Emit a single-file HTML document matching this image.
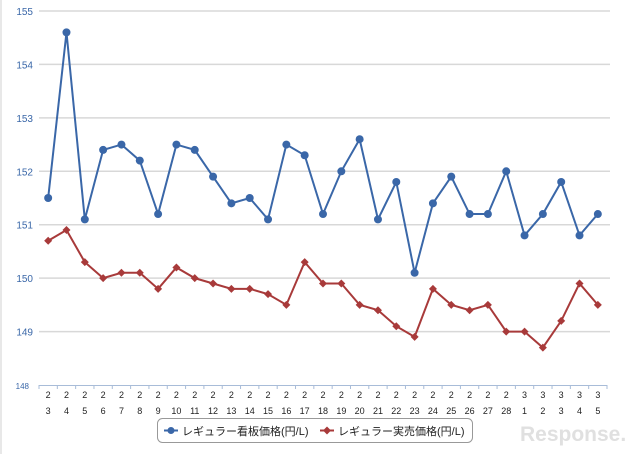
<!DOCTYPE html>
<html><head><meta charset="utf-8"><style>
body{margin:0;background:#fff;width:640px;height:454px;overflow:hidden;font-family:"Liberation Sans","Noto Sans CJK JP",sans-serif}
svg text{font-family:"Liberation Sans","Noto Sans CJK JP",sans-serif}
</style></head><body>
<svg id="c" width="640" height="454">
<rect x="0.5" y="0" width="1" height="454" fill="#d0d0d0"/>
<g id="grid"></g><g id="axis"></g><g id="series"></g>
<g>
<rect x="157.5" y="418.5" width="315" height="24" rx="5" fill="#fff" stroke="#999"/>
<g>
<line x1="164" y1="430.5" x2="178" y2="430.5" stroke="#3a67a8" stroke-width="2"/><circle cx="171" cy="430.5" r="3.5" fill="#3a67a8"/>
<text x="182" y="435" font-size="11" fill="#222">レギュラー看板価格(円/L)</text></g>
<g>
<line x1="320" y1="430.5" x2="334" y2="430.5" stroke="#a83a3a" stroke-width="2"/><path d="M327 426.5L331 430.5L327 434.5L323 430.5Z" fill="#a83a3a"/>
<text x="338" y="435" font-size="11" fill="#222">レギュラー実売価格(円/L)</text></g>
</g>
<text x="520" y="441" font-size="21" font-weight="bold" fill="#e0e0e0">Response.</text>
</svg>
<script>
const categories=["2/3","2/4","2/5","2/6","2/7","2/8","2/9","2/10","2/11","2/12","2/13","2/14","2/15","2/16","2/17","2/18","2/19","2/20","2/21","2/22","2/23","2/24","2/25","2/26","2/27","2/28","3/1","3/2","3/3","3/4","3/5"];
const signboard=[151.5,154.6,151.1,152.4,152.5,152.2,151.2,152.5,152.4,151.9,151.4,151.5,151.1,152.5,152.3,151.2,152.0,152.6,151.1,151.8,150.1,151.4,151.9,151.2,151.2,152.0,150.8,151.2,151.8,150.8,151.2];
const actual=[150.7,150.9,150.3,150.0,150.1,150.1,149.8,150.2,150.0,149.9,149.8,149.8,149.7,149.5,150.3,149.9,149.9,149.5,149.4,149.1,148.9,149.8,149.5,149.4,149.5,149.0,149.0,148.7,149.2,149.9,149.5];
const yTicks=[148,149,150,151,152,153,154,155];
const NS="http://www.w3.org/2000/svg";
const X0=39,X1=607,Y0=385,Y1=11,YMIN=148,YMAX=155;
const bw=(X1-X0)/categories.length;
const xs=i=>X0+bw*(i+0.5);
const ys=v=>Y0-(v-YMIN)/(YMAX-YMIN)*(Y0-Y1);
function mk(t,a,p){const e=document.createElementNS(NS,t);for(const k in a)e.setAttribute(k,a[k]);p.appendChild(e);return e;}
const grid=document.getElementById('grid'),axis=document.getElementById('axis'),ser=document.getElementById('series');
yTicks.forEach(v=>{
 if(v>YMIN){const l=mk('line',{x1:X0,x2:X1+3,y1:ys(v),y2:ys(v),stroke:'#d8d8d8','stroke-width':1.5},grid);
 
 }
 const t=mk('text',{x:v==YMIN?29:33,y:ys(v)+4,'font-size':v==YMIN?8:10,fill:'#3a67a8','text-anchor':'end'},axis);t.textContent=v;
 
 
});
const ax=mk('line',{x1:X0,x2:X1,y1:Y0+0.5,y2:Y0+0.5,stroke:'#a8bcd8'},axis);


categories.forEach((c,i)=>{
 const tx=X0+bw*i;
 mk('line',{x1:tx,x2:tx,y1:Y0,y2:Y0+4,stroke:'#a8bcd8'},axis);
 if(i==categories.length-1)mk('line',{x1:X1,x2:X1,y1:Y0,y2:Y0+4,stroke:'#a8bcd8'},axis);
 const [m,d]=c.split('/');
 const t=mk('text',{x:xs(i),y:398,'font-size':9,fill:'#222','text-anchor':'middle'},axis);
 
 
 mk('tspan',{x:xs(i),dy:0},t).textContent=m;
 mk('tspan',{x:xs(i),dy:16},t).textContent=d;
});
function line(data,color,name,marker){
 const p=mk('polyline',{points:data.map((v,i)=>xs(i)+','+ys(v)).join(' '),fill:'none',stroke:color,'stroke-width':2},ser);
 
 
 data.forEach((v,i)=>{
  let m;
  if(marker=='circle')m=mk('circle',{cx:xs(i),cy:ys(v),r:4,fill:color},ser);
  else{const x=xs(i),y=ys(v);m=mk('path',{d:`M${x} ${y-4}L${x+4} ${y}L${x} ${y+4}L${x-4} ${y}Z`,fill:color},ser);}
  
  
 });
}
line(signboard,'#3a67a8','signboard','circle');
line(actual,'#a83a3a','actual','diamond');
</script>
</body></html>
